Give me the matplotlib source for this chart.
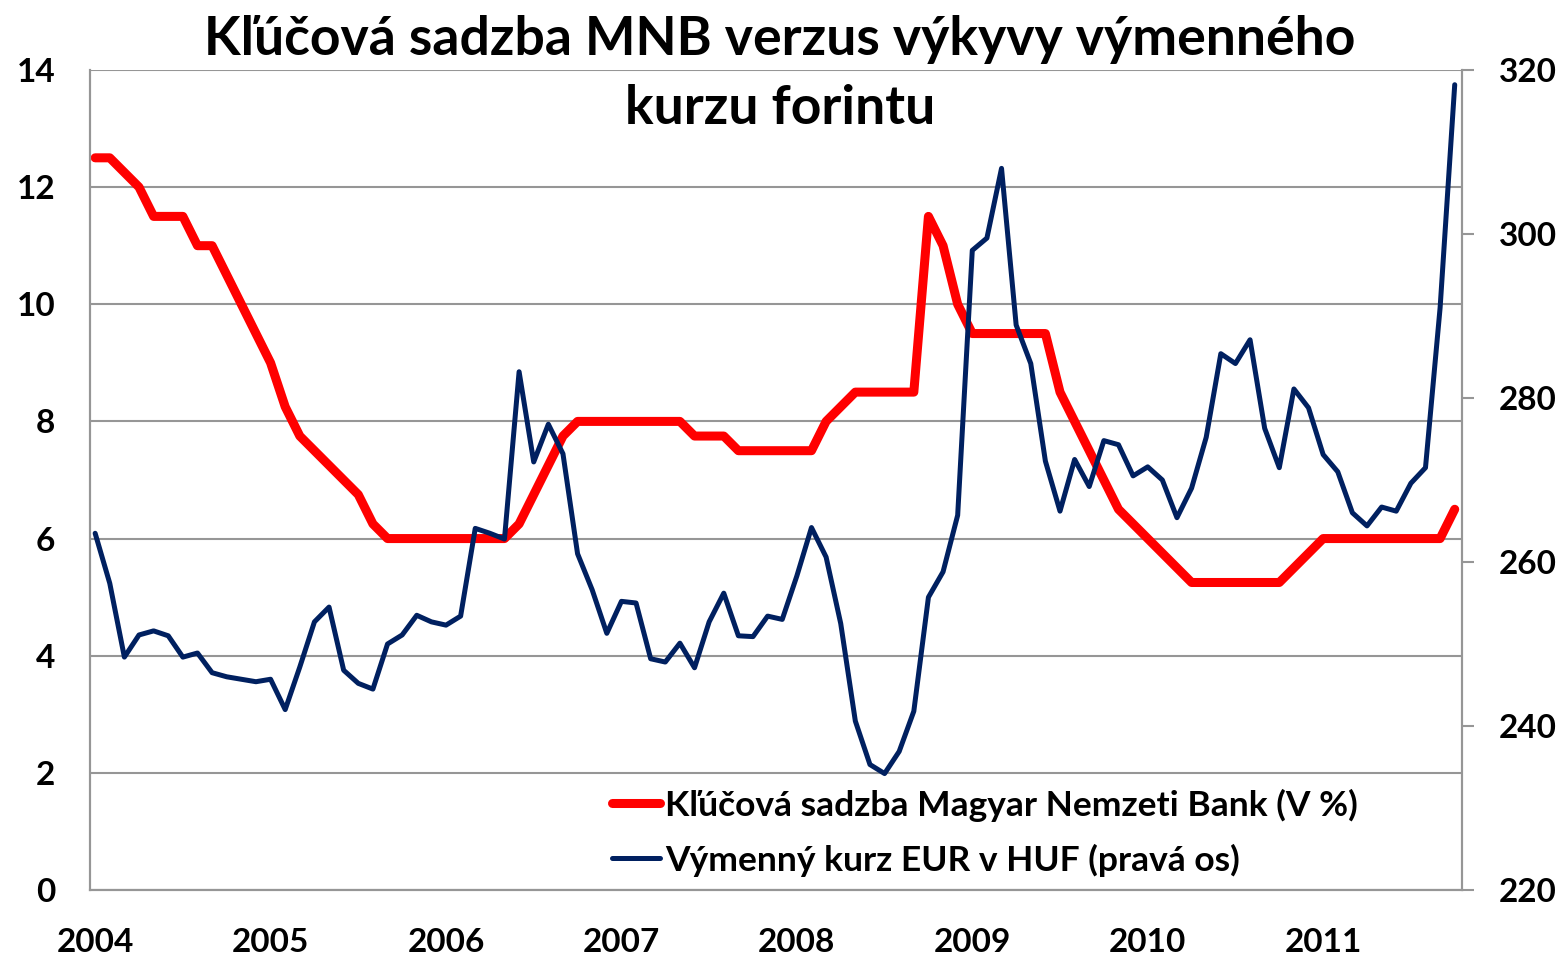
import matplotlib
matplotlib.use("Agg")
import matplotlib.pyplot as plt

plt.rcParams["font.family"] = ["Lato", "DejaVu Sans"]
plt.rcParams["font.weight"] = "bold"

# monthly observations, Jan 2004 .. Oct 2011
years = ["2004", "2005", "2006", "2007", "2008", "2009", "2010", "2011"]

key_rate = [
    12.5, 12.5, 12.25, 12.0, 11.5, 11.5, 11.5, 11.0, 11.0, 10.5, 10.0, 9.5,
    9.0, 8.25, 7.75, 7.5, 7.25, 7.0, 6.75, 6.25, 6.0, 6.0, 6.0, 6.0,
    6.0, 6.0, 6.0, 6.0, 6.0, 6.25, 6.75, 7.25, 7.75, 8.0, 8.0, 8.0,
    8.0, 8.0, 8.0, 8.0, 8.0, 7.75, 7.75, 7.75, 7.5, 7.5, 7.5, 7.5,
    7.5, 7.5, 8.0, 8.25, 8.5, 8.5, 8.5, 8.5, 8.5, 11.5, 11.0, 10.0,
    9.5, 9.5, 9.5, 9.5, 9.5, 9.5, 8.5, 8.0, 7.5, 7.0, 6.5, 6.25,
    6.0, 5.75, 5.5, 5.25, 5.25, 5.25, 5.25, 5.25, 5.25, 5.25, 5.5, 5.75,
    6.0, 6.0, 6.0, 6.0, 6.0, 6.0, 6.0, 6.0, 6.0, 6.5,
]

eur_huf = [
    263.5, 257.4, 248.4, 251.1, 251.6, 251.0, 248.4, 248.9, 246.5, 246.0, 245.7, 245.4,
    245.7, 242.0, 247.2, 252.7, 254.5, 246.8, 245.2, 244.5, 250.0, 251.1, 253.5, 252.7,
    252.3, 253.4, 264.1, 263.5, 262.8, 283.2, 272.2, 276.8, 273.2, 261.0, 256.6, 251.3,
    255.2, 255.0, 248.2, 247.8, 250.1, 247.1, 252.7, 256.2, 251.0, 250.9, 253.4, 253.0,
    258.3, 264.2, 260.6, 252.5, 240.6, 235.3, 234.2, 236.9, 241.8, 255.7, 258.8, 265.7,
    298.0, 299.5, 308.0, 288.9, 284.2, 272.3, 266.2, 272.5, 269.2, 274.8, 274.3, 270.5,
    271.6, 270.0, 265.4, 269.0, 275.2, 285.4, 284.2, 287.1, 276.3, 271.5, 281.1, 278.8,
    273.1, 271.0, 266.0, 264.4, 266.7, 266.2, 269.6, 271.5, 291.0, 318.2,
]

months = list(range(len(key_rate)))
grey = "#969696"

fig = plt.figure(figsize=(15.63, 9.57), dpi=100)
ax = fig.add_axes([0.0576, 0.0700, 0.8778, 0.8569])
ax2 = ax.twinx()

l1, = ax.plot(months, key_rate, color="#FF0000", lw=6.5, solid_capstyle="round",
              solid_joinstyle="round", label="Kľúčová sadzba Magyar Nemzeti Bank (V %)")
l2, = ax2.plot(months, eur_huf, color="#002060", lw=3.6, solid_capstyle="round",
               solid_joinstyle="round", label="Výmenný kurz EUR v HUF (pravá os)")

ax.set_xlim(-0.35, 93.5)
ax.set_ylim(0, 14)
ax.set_yticks(range(0, 15, 2))
ax2.set_ylim(220, 320)
ax2.set_yticks(range(220, 321, 20))
ax.set_xticks(range(0, len(months), 12))
ax.set_xticklabels(years)

ax.grid(axis="y", color=grey, lw=1.5)
ax.set_axisbelow(True)
for a in (ax, ax2):
    a.spines["top"].set_visible(False)
    for s in ("left", "bottom", "right"):
        a.spines[s].set_color(grey)
        a.spines[s].set_linewidth(1.5)

ax.tick_params(axis="y", length=0, pad=25, labelsize=24)
ax.tick_params(axis="x", length=0, pad=27, labelsize=24)
ax2.tick_params(axis="y", length=8.5, width=1.5, color=grey, pad=18, labelsize=24)

fig.text(0.499, 0.943, "Kľúčová sadzba MNB verzus výkyvy výmenného",
         ha="center", va="baseline", fontsize=38.5, fontweight="bold")
fig.text(0.499, 0.870, "kurzu forintu",
         ha="center", va="baseline", fontsize=38.5, fontweight="bold")

leg = fig.legend(handles=[l1, l2], loc="upper left", bbox_to_anchor=(0.3916, 0.176),
                 frameon=False, fontsize=25.5, handlelength=1.36, handletextpad=0.14,
                 labelspacing=0.62, borderpad=0, borderaxespad=0)
for t in leg.get_texts():
    t.set_fontweight("bold")

fig.savefig("out.png", dpi=100)
